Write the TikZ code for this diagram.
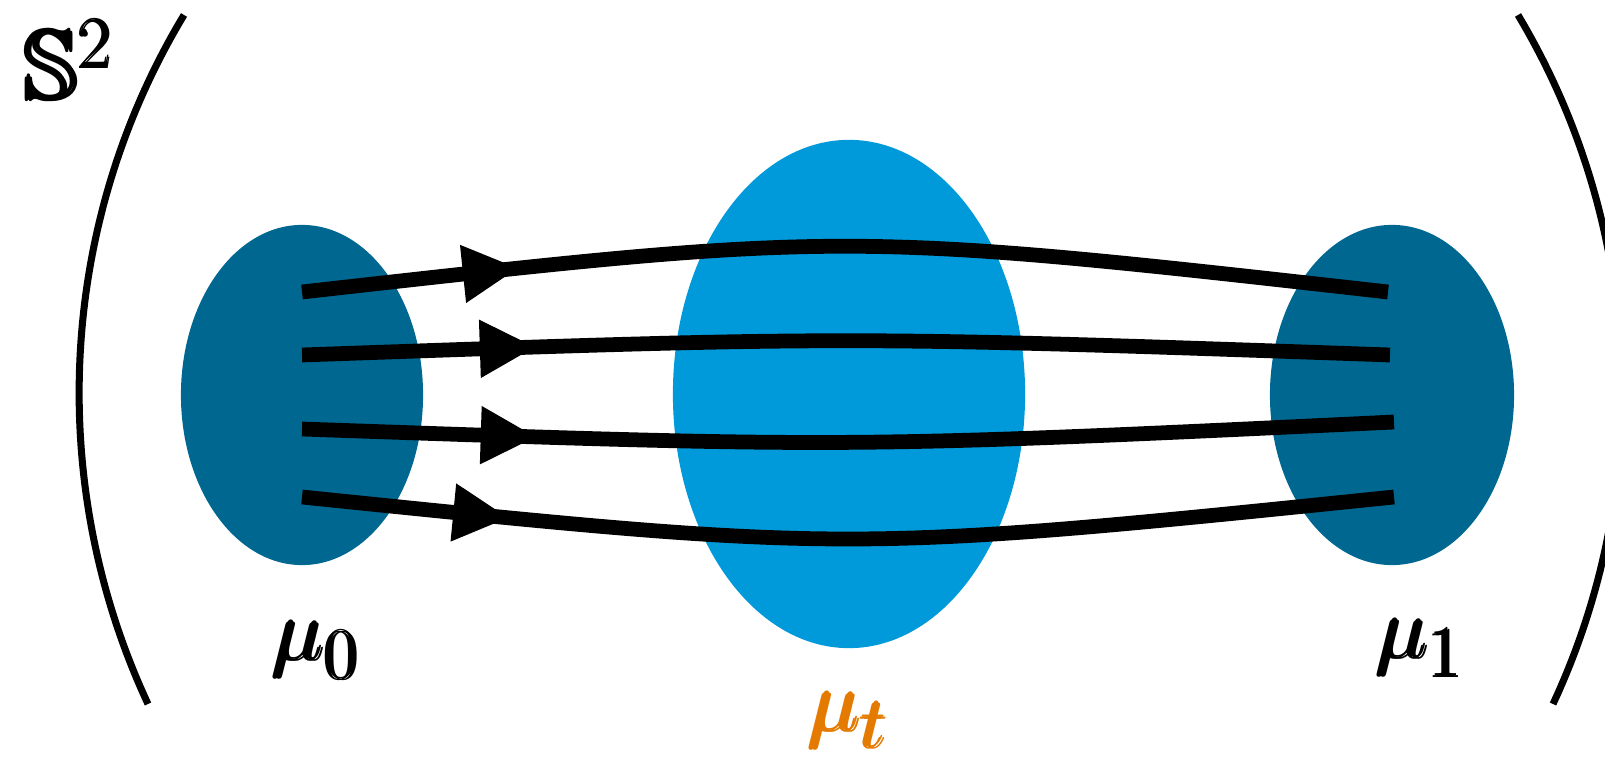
\documentclass[tikz,border=0pt]{standalone}
\usepackage{amsmath,amssymb,bm}
\usetikzlibrary{positioning,shapes.geometric,arrows.meta,decorations.markings}
\definecolor{MarginalDark}{RGB}{0,103,145}
\definecolor{MarginalLight}{RGB}{0,154,218}
\definecolor{FlowOrange}{RGB}{228,122,0}

\begin{document}
\begin{tikzpicture}[
  x=0.01cm, y=-0.01cm,
  every node/.style={font=\fontsize{32}{36}\selectfont, inner sep=0pt},
  blob/.style={ellipse, draw=none, inner sep=0pt},
  bracket/.style={line width=2pt, black},
  flowline/.style={line width=4.2pt, black, postaction={decorate},
    decoration={markings, mark=at position #1 with {\arrow{Triangle[length=0.56cm,width=0.54cm]}}}}
]
\useasboundingbox (0,0) rectangle (1605,764);
\clip (0,0) rectangle (1605,764);

% measures
\node[blob, fill=MarginalLight, minimum width=3.52cm, minimum height=5.08cm] (mut) at (849,394) {};
\node[blob, fill=MarginalDark, minimum width=2.42cm, minimum height=3.40cm] (mu0) at (302,395) {};
\node[blob, fill=MarginalDark, minimum width=2.44cm, minimum height=3.40cm] (mu1) at (1392,395) {};

\node (lbl0) at (318,650) {$\pmb{\mu}_{\pmb{0}}$};
\node (lbl1) at (1422,648) {$\pmb{\mu}_{\pmb{1}}$};
\node[text=FlowOrange] (lblt) at (850,720) {$\pmb{\mu}_{\pmb{t}}$};
\node[font=\fontsize{28}{32}\selectfont] (sphere) at (70,60) {$\pmb{\mathbb{S}}^{\pmb{2}}$};

% end points of the flow lines
\coordinate (a1) at (302,292); \coordinate (b1) at (1388,292);
\coordinate (a2) at (302,355); \coordinate (b2) at (1390,355);
\coordinate (a3) at (302,429); \coordinate (b3) at (1394,422);
\coordinate (a4) at (302,497); \coordinate (b4) at (1394,497);

\draw[flowline=0.2] (a1) .. controls (845,231) .. (b1);
\draw[flowline=0.215] (a2) .. controls (846,336) .. (b2);
\draw[flowline=0.215] (a3) .. controls (848,448) .. (b3);
\draw[flowline=0.19] (a4) .. controls (848,553) .. (b4);

% brackets
\coordinate (lt) at (184,15); \coordinate (lb) at (148,704);
\coordinate (rt) at (1518,15); \coordinate (rb) at (1553,704);
\draw[bracket] (lt) .. controls (58,224) and (45,483) .. (lb);
\draw[bracket] (rt) .. controls (1643,224) and (1656,483) .. (rb);
\end{tikzpicture}
\end{document}
